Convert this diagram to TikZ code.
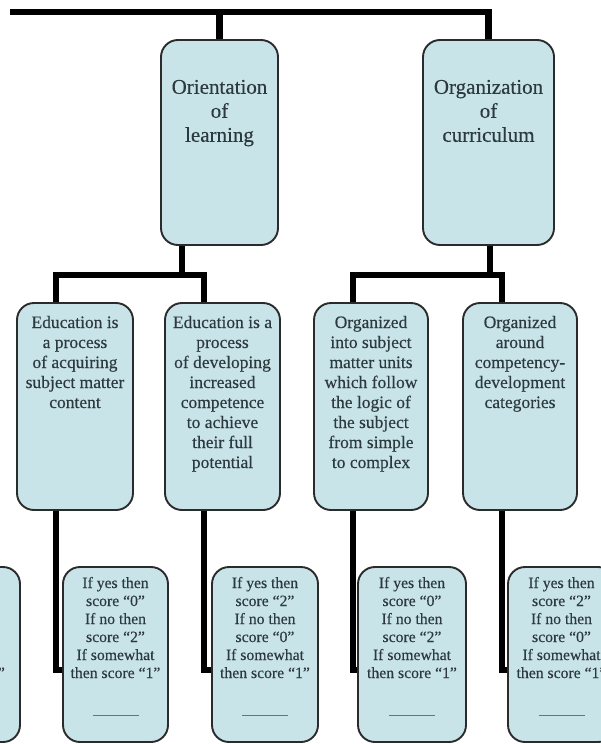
\documentclass[tikz,border=0pt]{standalone}
\usepackage{fontspec}
\setmainfont{Liberation Serif}
\newfontfamily\boxfont[FakeBold=0.3]{Liberation Serif}
\usetikzlibrary{backgrounds}

\definecolor{boxfill}{HTML}{C9E4E9}
\definecolor{boxline}{HTML}{2B2B2B}
\definecolor{boxtext}{HTML}{2C3A3F}
\definecolor{ruleclr}{HTML}{6A7478}

% body of a box: width, height, gap above first line, font, lines
\newcommand\boxbody[5]{\parbox[c][#2][t]{#1}{\centering\boxfont#4\vspace*{#3}\strut#5}}
\newcommand\fontA{\fontsize{21pt}{24pt}\selectfont}
\newcommand\fontB{\fontsize{17.5pt}{20pt}\selectfont}
\newcommand\fontC{\fontsize{15.7pt}{18pt}\selectfont}
\newcommand\blankrule{\\[18pt]{\color{ruleclr}\rule[-2pt]{46pt}{0.9pt}}}

\tikzset{
  box/.style={draw=boxline, line width=1.9pt, fill=boxfill, rounded corners=17pt,
    inner sep=0pt, outer sep=0pt, text=boxtext, anchor=north west},
  conn/.style={line width=6.5pt, black, line join=miter}
}

\begin{document}
\begin{tikzpicture}[x=1pt,y=-1pt]
\clip (0,0) rectangle (601,744);

% first level
\node[box] (o1) at (161,40) {\boxbody{117pt}{205pt}{37pt}{\fontA}{Orientation\\of\\learning}};
\node[box] (o2) at (423,40) {\boxbody{131pt}{205pt}{37pt}{\fontA}{Organization\\of\\curriculum}};

% second level
\node[box] (e1) at (17,303) {\boxbody{116pt}{207pt}{11pt}{\fontB}{Education is\\a process\\of acquiring\\subject matter\\content}};
\node[box] (e2) at (165,303) {\boxbody{115pt}{207pt}{11pt}{\fontB}{Education is a\\process\\of developing\\increased\\competence\\to achieve\\their full\\potential}};
\node[box] (e3) at (314,303) {\boxbody{114pt}{207pt}{11pt}{\fontB}{Organized\\into subject\\matter units\\which follow\\the logic of\\the subject\\from simple\\to complex}};
\node[box] (e4) at (463,303) {\boxbody{114pt}{207pt}{11pt}{\fontB}{Organized\\around\\competency-\\development\\categories}};

% scoring boxes
\node[box] (f0) at (-100,567) {\boxbody{120pt}{175pt}{8.4pt}{\fontC}{If yes then\\score “2”\\If no then\\score “0”\\If somewhat\\then score “1”\blankrule}};
\node[box] (f1) at (63,567) {\boxbody{105pt}{175pt}{8.4pt}{\fontC}{If yes then\\score “0”\\If no then\\score “2”\\If somewhat\\then score “1”\blankrule}};
\node[box] (f2) at (212,567) {\boxbody{106pt}{175pt}{8.4pt}{\fontC}{If yes then\\score “2”\\If no then\\score “0”\\If somewhat\\then score “1”\blankrule}};
\node[box] (f3) at (358,567) {\boxbody{108pt}{175pt}{8.4pt}{\fontC}{If yes then\\score “0”\\If no then\\score “2”\\If somewhat\\then score “1”\blankrule}};
\node[box] (f4) at (508,567) {\boxbody{107pt}{175pt}{8.4pt}{\fontC}{If yes then\\score “2”\\If no then\\score “0”\\If somewhat\\then score “1”\blankrule}};

% junction points
\coordinate (top) at (10,12);
\coordinate (j1) at (182,275);
\coordinate (j2) at (490,275);
\coordinate (h1) at (56,275);
\coordinate (h2) at (204,275);
\coordinate (h3) at (353,275);
\coordinate (h4) at (502,275);
\coordinate (b1) at (56,670);
\coordinate (b2) at (204,670);
\coordinate (b3) at (353,670);
\coordinate (b4) at (502,670);

\begin{scope}[on background layer]
  % header bar and first level drops
  \draw[conn] (top) -- (o2.north |- top) -- (o2.north);
  \draw[conn] (o1.north |- top) -- (o1.north);
  % first level to second level
  \draw[conn] (o1.south -| j1) -- (j1);
  \draw[conn] (h1 |- e1.north) -- (h1) -- (h2) -- (h2 |- e2.north);
  \draw[conn] (o2.south -| j2) -- (j2);
  \draw[conn] (h3 |- e3.north) -- (h3) -- (h4) -- (h4 |- e4.north);
  % second level to scoring boxes
  \draw[conn] (b1 |- e1.south) -- (b1) -- (f1.west |- b1);
  \draw[conn] (b2 |- e2.south) -- (b2) -- (f2.west |- b2);
  \draw[conn] (b3 |- e3.south) -- (b3) -- (f3.west |- b3);
  \draw[conn] (b4 |- e4.south) -- (b4) -- (f4.west |- b4);
\end{scope}
\end{tikzpicture}
\end{document}
